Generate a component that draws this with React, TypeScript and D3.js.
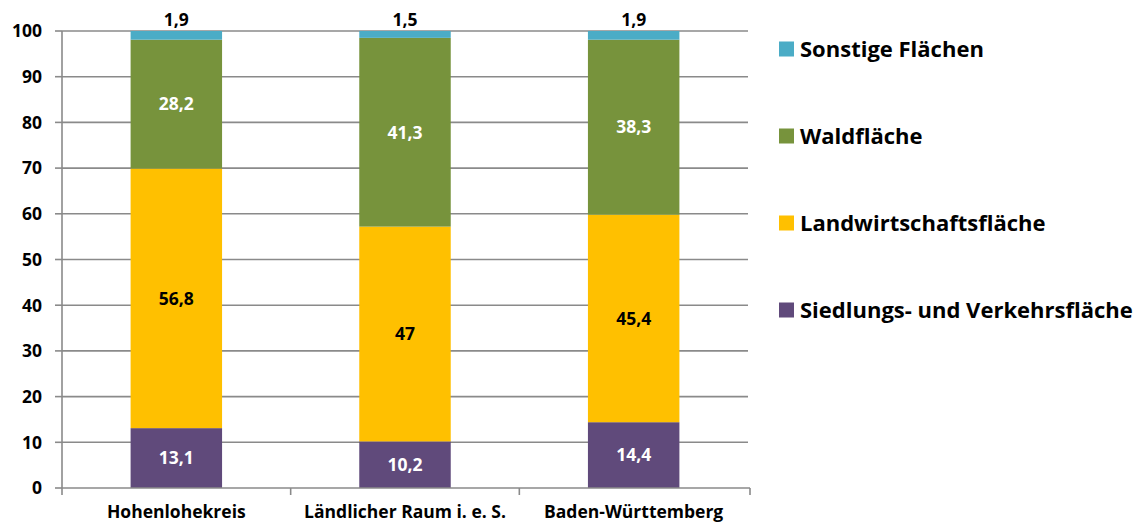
import React from "react";
import * as d3 from "d3";

const categories = ["Hohenlohekreis", "Ländlicher Raum i. e. S.", "Baden-Württemberg"];
const siedlung = [13.1, 10.2, 14.4];
const landwirtschaft = [56.8, 47, 45.4];
const wald = [28.2, 41.3, 38.3];
const sonstige = [1.9, 1.5, 1.9];
const seriesNames = ["Siedlungs- und Verkehrsfläche", "Landwirtschaftsfläche", "Waldfläche", "Sonstige Flächen"];
const seriesColors = ["#604A7B", "#FFC000", "#77933C", "#4BACC6"];
const labelColors = ["#ffffff", "#000000", "#ffffff", "#000000"];
const yTicks = [0, 10, 20, 30, 40, 50, 60, 70, 80, 90, 100];

const W = 1142;
const H = 524;
const left = 62;
const right = 748;
const top = 31;
const bottom = 488;
const FONT = "'Open Sans', sans-serif";
const LABEL_SIZE = 17.5;

export default function App() {
  const x = d3.scaleBand<string>().domain(categories).range([left, right]).paddingInner(0.6).paddingOuter(0.3);
  const y = d3.scaleLinear().domain([0, 100]).range([bottom, top]);
  const rows = categories.map((c, i) => ({
    cat: c,
    s0: siedlung[i],
    s1: landwirtschaft[i],
    s2: wald[i],
    s3: sonstige[i],
  }));
  const stack = d3.stack<any>().keys(["s0", "s1", "s2", "s3"]);
  const layers = stack(rows);
  const step = x.step();
  const fmt = (v: number) => String(v).replace(".", ",");

  return (
    <div style={{ position: "absolute", left: 0, top: 0 }}>
      <svg width={W} height={H} style={{ display: "block" }}>
        <rect width={W} height={H} fill="#fff" />
        {yTicks.map((t) => (
          <g key={t}>
            {t > 0 && <line x1={left} x2={right} y1={y(t)} y2={y(t)} stroke="#8a8a8a" strokeWidth={1.6} />}
            <line x1={left - 7} x2={left} y1={y(t)} y2={y(t)} stroke="#8a8a8a" strokeWidth={1.6} />
            <text x={42} y={y(t)} dy="0.36em" textAnchor="end" fontFamily={FONT} fontWeight="bold" fontSize={LABEL_SIZE} fill="#000">
              {t}
            </text>
          </g>
        ))}
        <line x1={left} x2={left} y1={top} y2={bottom} stroke="#8a8a8a" strokeWidth={1.6} />
        {layers.map((layer, li) => (
          <g key={li}>
            {layer.map((d, i) => {
              const x0 = x(categories[i])!;
              const yTop = y(d[1]);
              const yBot = y(d[0]);
              return <rect key={i} x={x0} y={yTop} width={x.bandwidth()} height={yBot - yTop} fill={seriesColors[li]} />;
            })}
          </g>
        ))}
        <line x1={left} x2={right + 2} y1={bottom} y2={bottom} stroke="#8a8a8a" strokeWidth={1.6} />
        {d3.range(categories.length + 1).map((k) => (
          <line key={k} x1={left + k * step + (k === categories.length ? 2 : 0)} x2={left + k * step + (k === categories.length ? 2 : 0)} y1={bottom} y2={bottom + 7} stroke="#8a8a8a" strokeWidth={1.6} />
        ))}
        {layers.map((layer, li) => (
          <g key={"l" + li}>
            {layer.map((d, i) => {
              const cx = x(categories[i])! + x.bandwidth() / 2;
              const v = d.data["s" + li];
              if (li === 3) {
                return (
                  <text key={i} x={cx} y={y(d[1]) - 5} textAnchor="middle" fontFamily={FONT} fontWeight="bold" fontSize={LABEL_SIZE} fill={labelColors[li]}>
                    {fmt(v)}
                  </text>
                );
              }
              return (
                <text key={i} x={cx} y={(y(d[0]) + y(d[1])) / 2} dy="0.36em" textAnchor="middle" fontFamily={FONT} fontWeight="bold" fontSize={LABEL_SIZE} fill={labelColors[li]}>
                  {fmt(v)}
                </text>
              );
            })}
          </g>
        ))}
        {categories.map((c) => (
          <text key={c} x={x(c)! + x.bandwidth() / 2} y={518} textAnchor="middle" fontFamily={FONT} fontWeight="bold" fontSize={LABEL_SIZE} fill="#000">
            {c}
          </text>
        ))}
        {[3, 2, 1, 0].map((si, k) => {
          const cy = 49 + k * 87;
          return (
            <g key={si}>
              <rect x={779} y={cy - 7.5} width={15} height={15} fill={seriesColors[si]} />
              <text x={800} y={cy} dy="0.36em" fontFamily={FONT} fontWeight="bold" fontSize={22} fill="#000">
                {seriesNames[si]}
              </text>
            </g>
          );
        })}
      </svg>
    </div>
  );
}
